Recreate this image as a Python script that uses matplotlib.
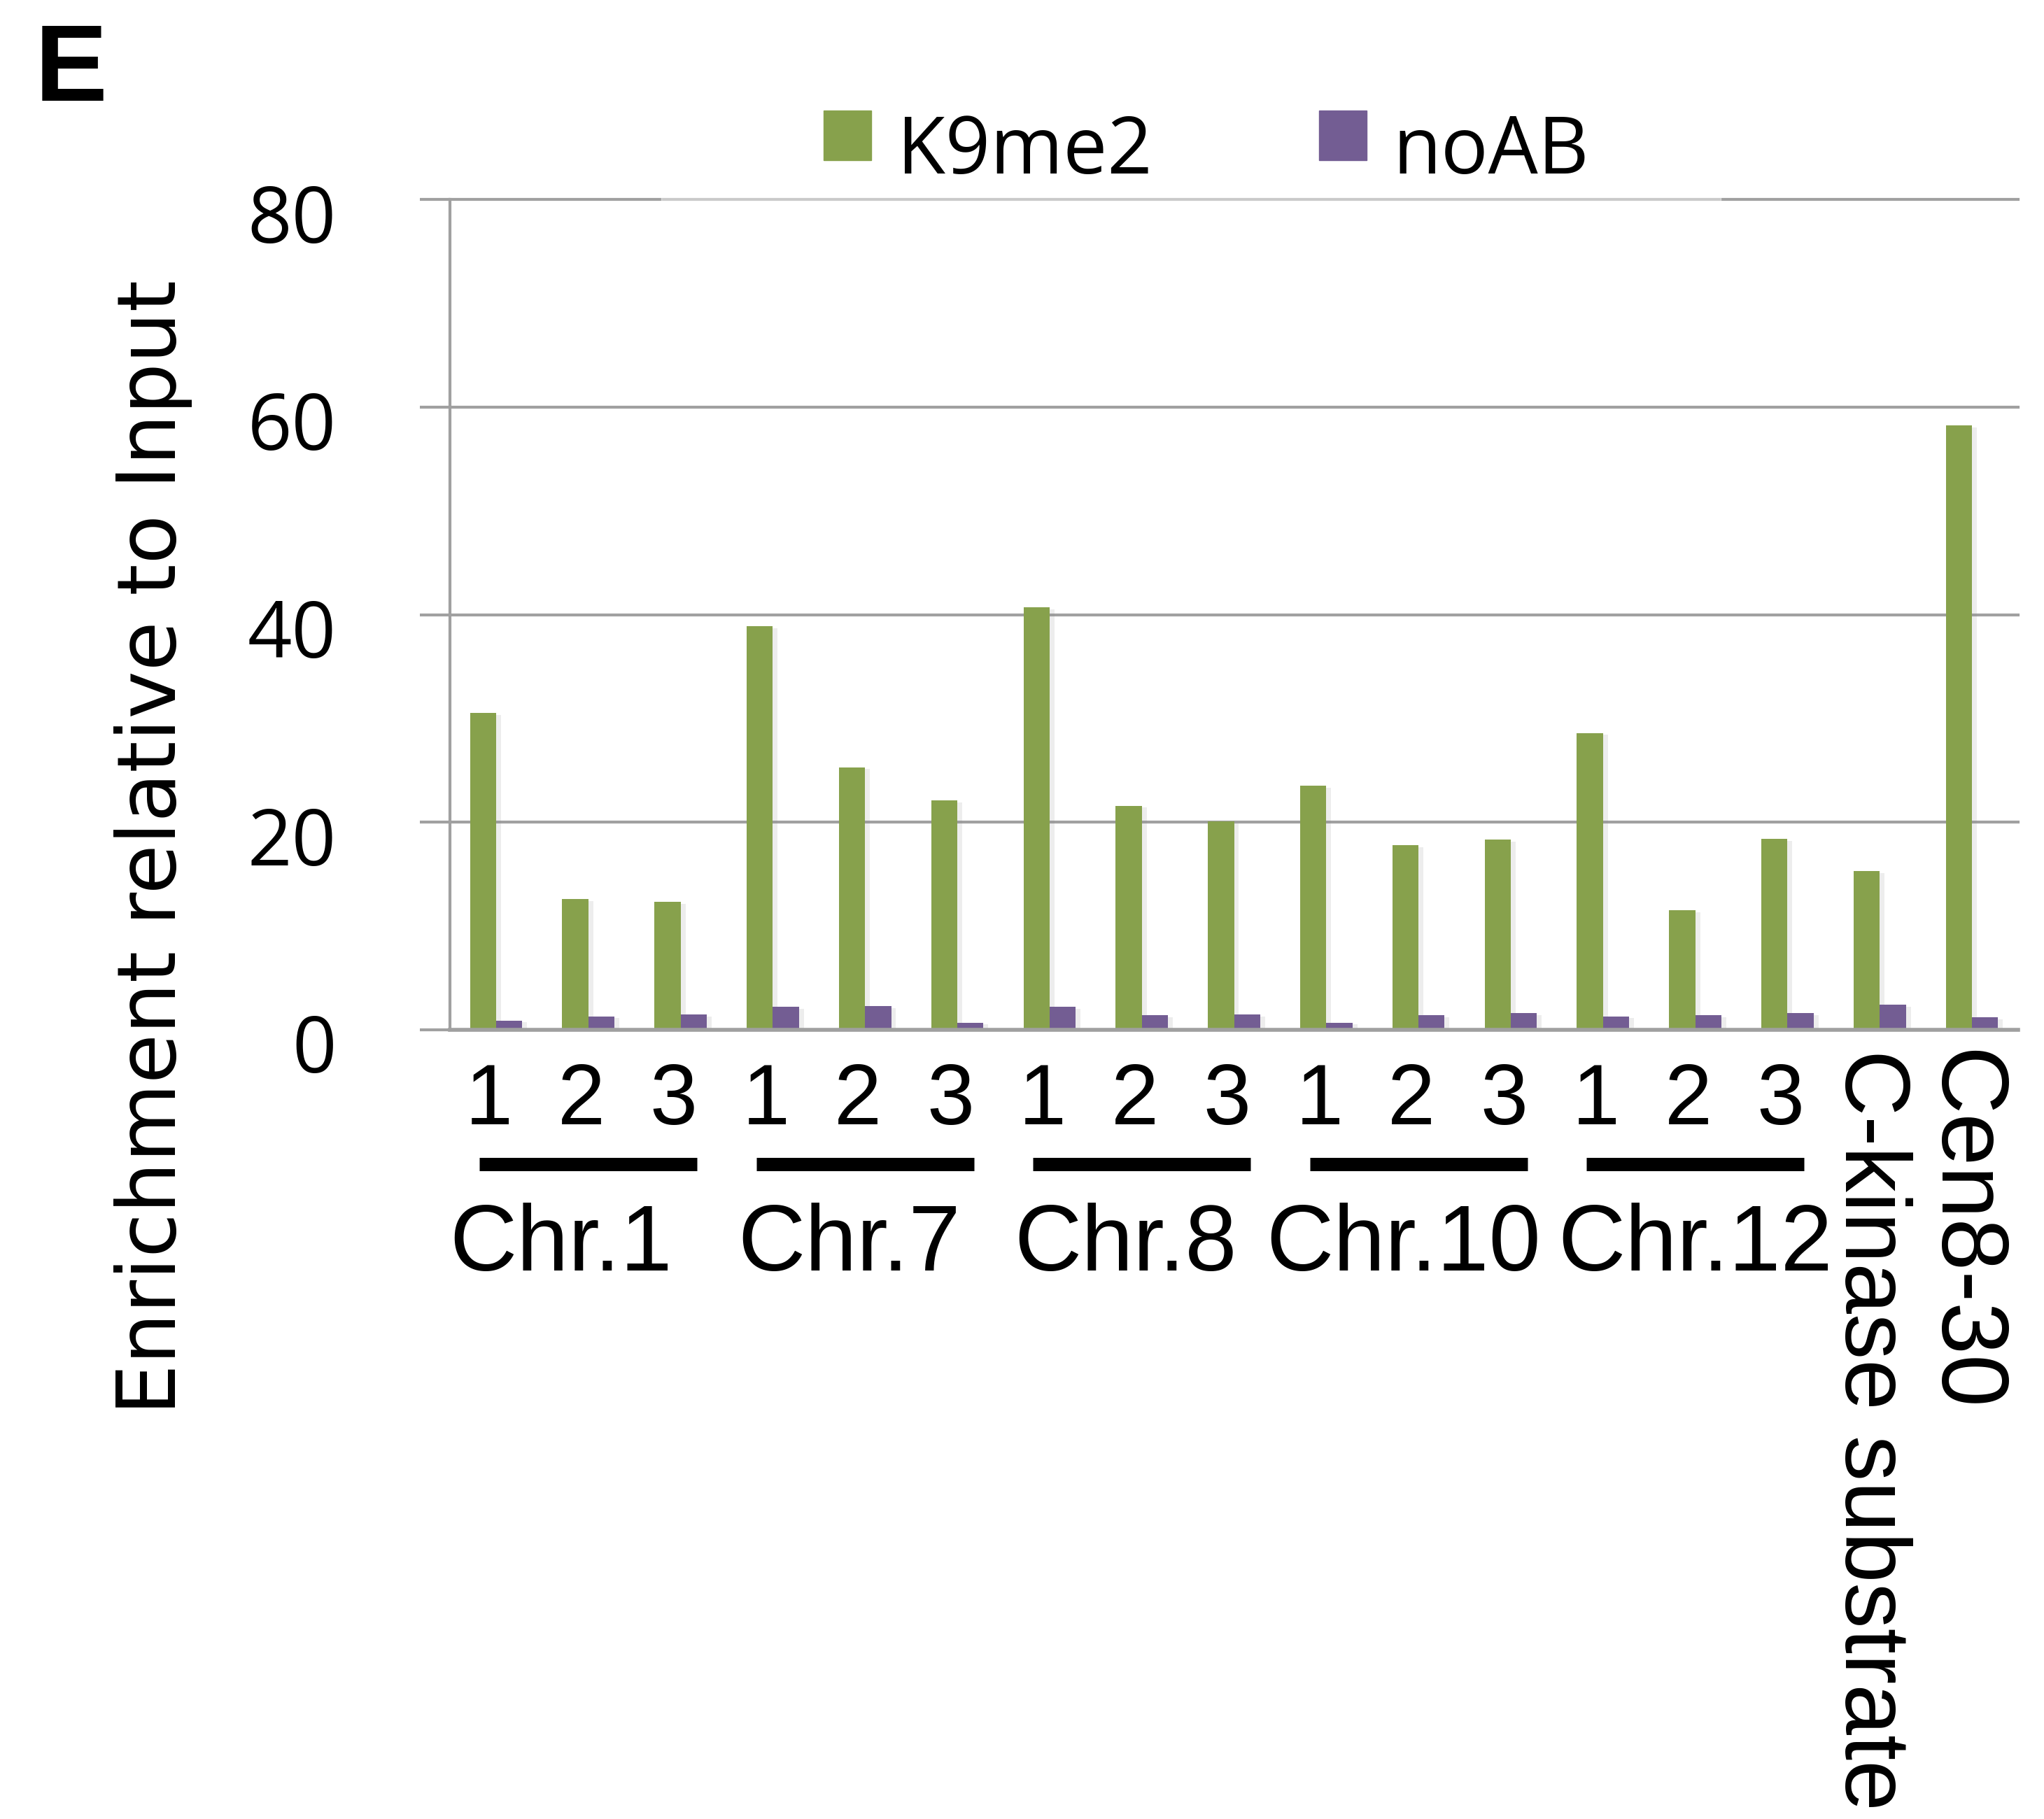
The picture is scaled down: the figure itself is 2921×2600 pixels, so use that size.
import matplotlib
matplotlib.use('Agg')
import matplotlib.pyplot as plt
import numpy as np
from matplotlib.patches import Rectangle
from matplotlib import patheffects
from matplotlib.transforms import ScaledTranslation, blended_transform_factory

# ChIP enrichment per site
site_labels = ['1', '2', '3'] * 5 + ['C-kinase substrate', 'Cen8-30']
group_names = ['Chr.1', 'Chr.7', 'Chr.8', 'Chr.10', 'Chr.12']
k9me2 = [30.5, 12.6, 12.3, 38.9, 25.3, 22.1, 40.7, 21.6, 20.1,
         23.5, 17.8, 18.3, 28.6, 11.5, 18.4, 15.3, 58.2]
noab = [0.9, 1.3, 1.5, 2.2, 2.3, 0.7, 2.2, 1.4, 1.5,
        0.7, 1.4, 1.6, 1.3, 1.4, 1.6, 2.4, 1.2]
series_names = ['K9me2', 'noAB']
y_ticks = [0, 20, 40, 60, 80]

# hand-placed group names sit a little left of the group centre
name_shift = [-0.30, -0.17, -0.18, -0.16, 0.0]

GREEN = '#87a14c'
PURPLE = '#735d93'
GRID = '#a0a0a0'

W, H = 2921, 2600
fig = plt.figure(figsize=(W / 100, H / 100), dpi=100)
ax = fig.add_axes([643 / W, 1 - 1472 / H, (2884 - 643) / W, (1472 - 285) / H])

x = np.arange(len(k9me2))
bw = 0.283
shadow = [patheffects.SimplePatchShadow(offset=(5, -2), shadow_rgbFace='0.55', alpha=0.15),
          patheffects.Normal()]
bars1 = ax.bar(x - bw / 2, k9me2, bw, color=GREEN, zorder=3, label=series_names[0])
bars2 = ax.bar(x + bw / 2, noab, bw, color=PURPLE, zorder=3, label=series_names[1])
for b in list(bars1) + list(bars2):
    b.set_path_effects(shadow)

ax.set_xlim(-0.5, len(k9me2) - 0.5)
ax.set_ylim(0, 80)

# y axis: gridlines with ticks poking out to the left
ax.set_yticks(y_ticks)
ax.set_yticklabels([str(v) for v in y_ticks], fontsize=80, family='Open Sans')
ax.tick_params(axis='y', length=31, width=3, color=GRID, pad=86)
ax.yaxis.grid(True, color=GRID, lw=3, zorder=0)
for gl in ax.get_ygridlines():
    gl.set_clip_on(False)
off = ScaledTranslation(0, -19 / 100, fig.dpi_scale_trans)
for lbl in ax.get_yticklabels():
    lbl.set_transform(lbl.get_transform() + off)

for s in ['top', 'right']:
    ax.spines[s].set_visible(False)
ax.spines['left'].set_color(GRID)
ax.spines['left'].set_linewidth(3)
ax.spines['bottom'].set_color(GRID)
ax.spines['bottom'].set_linewidth(4)
ax.spines['bottom'].set_zorder(4)

# x tick labels; the two single sites get vertical names
ax.set_xticks(x)
ax.set_xticklabels(site_labels, fontsize=88, family='Liberation Sans')
ax.tick_params(axis='x', length=0, pad=33)
xoff = ScaledTranslation(-10 / 100, 0, fig.dpi_scale_trans)
roff = ScaledTranslation(-15 / 100, 18 / 100, fig.dpi_scale_trans)
rot_sizes = {15: 94, 16: 97}
for i, lbl in enumerate(ax.get_xticklabels()):
    if i in rot_sizes:
        lbl.set_rotation(-90)
        lbl.set_va('top')
        lbl.set_fontsize(rot_sizes[i])
        lbl.set_transform(lbl.get_transform() + roff)
    else:
        lbl.set_transform(lbl.get_transform() + xoff)

# chromosome group bars and names
trans = blended_transform_factory(ax.transData, ax.transAxes)
for g, name in enumerate(group_names):
    c = 3 * g + 1
    ax.plot([c - 1.18, c + 1.18], [-0.1618, -0.1618], transform=trans, color='black',
            lw=13.7, solid_capstyle='butt', clip_on=False)
    ax.text(c + name_shift[g], -0.208, name, transform=trans, ha='center', va='top',
            fontsize=96, family='Liberation Sans')

fig.text(219 / W, 1 - 1211 / H, 'Enrichment relative to Input', rotation=90,
         ha='center', va='center', fontsize=83, family='DejaVu Sans')

fig.text(50 / W, 1 - 31 / H, 'E', fontsize=112, fontweight='bold',
         family='Liberation Sans', va='top', ha='left')

# legend drawn in figure pixels
leg_items = [(series_names[0], GREEN, 1177), (series_names[1], PURPLE, 1885)]
for name, col, px in leg_items:
    fig.patches.append(Rectangle((px / W, 1 - 229 / H), 68 / W, 71 / H,
                                 transform=fig.transFigure, color=col, figure=fig))
    fig.text((px + 105) / W, 1 - 248 / H, name, fontsize=81, family='Open Sans',
             va='baseline', ha='left')

# lighter stretch of the top gridline under the legend
fig.patches.append(Rectangle((945 / W, 1 - 300 / H), (2459 - 945) / W, 30 / H,
                             transform=fig.transFigure, color='white', alpha=0.45,
                             figure=fig, zorder=5))

fig.savefig('out.png', dpi=100, facecolor='white')
